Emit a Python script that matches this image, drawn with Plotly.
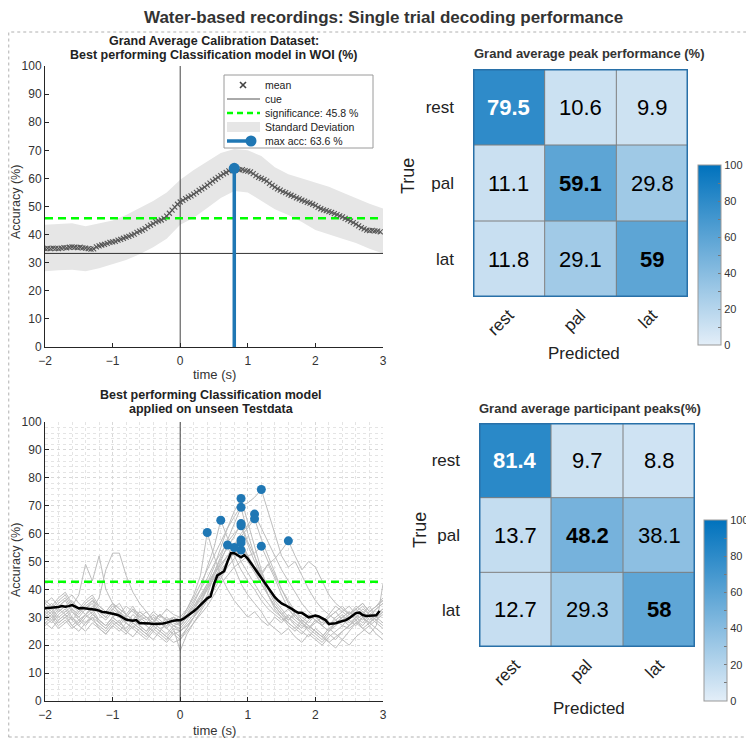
import plotly.graph_objects as go

W, H = 754, 741
OX, OY = 8, 8   # page body margin compensation
def px(x): return (x - OX) / W
def py(y): return 1 - (y - OY) / H

FONT = "Liberation Sans, Arial, Helvetica, sans-serif"
BLUE = "rgb(31,119,180)"
AXC = "#262626"

# ---------------- data: top-left (calibration grand average) ----------------
cal_t0, cal_dt = -2.0, 0.04
cal_mean = [35.0, 35.1, 35.0, 35.2, 35.1, 35.0, 35.2, 35.4, 35.3, 35.5, 35.6, 35.5, 35.4, 35.5, 35.3, 35.2, 35.0, 34.8, 34.9, 35.6,
            36.0, 36.3, 36.5, 36.9, 37.2, 37.4, 37.6, 38.0, 38.3, 38.7, 39.1, 39.4, 39.8, 40.2, 40.8, 41.2, 41.6, 42.1, 42.8, 43.4,
            43.9, 44.5, 44.9, 45.2, 45.8, 46.6, 47.6, 48.7, 49.8, 50.8, 51.6, 52.2, 52.8, 53.3, 53.8, 54.4, 55.0, 55.7, 56.3, 56.9,
            57.6, 58.3, 59.0, 59.7, 60.4, 61.0, 61.6, 62.1, 62.7, 63.2, 63.6, 63.3, 63.0, 63.1, 62.8, 62.6, 62.3, 61.7, 61.0, 60.4,
            60.0, 59.6, 59.0, 58.2, 57.5, 56.9, 56.3, 55.8, 55.3, 54.9, 54.4, 54.0, 53.6, 53.1, 52.7, 52.3, 51.9, 51.5, 51.2, 50.8,
            50.3, 49.7, 49.2, 48.8, 48.5, 48.2, 47.9, 47.5, 47.1, 46.7, 46.3, 45.8, 45.3, 44.8, 44.3, 43.7, 43.1, 42.5, 42.0, 41.6,
            41.4, 41.5, 41.3, 41.2, 41.0]
band_t = [-2.0, -1.8, -1.6, -1.4, -1.2, -1.0, -0.8, -0.6, -0.4, -0.2, 0.0, 0.2, 0.4, 0.6, 0.8, 1.0, 1.2, 1.4, 1.6, 1.8,
          2.0, 2.2, 2.4, 2.6, 2.8, 3.0]
band_upper = [43.5, 43.8, 44.0, 43.0, 44.0, 45.0, 47.0, 49.5, 52.0, 55.0, 59.5, 63.0, 66.0, 69.0, 70.5, 70.0, 68.0, 64.0, 61.5, 60.0,
              58.5, 57.0, 55.0, 53.0, 51.0, 49.3]
band_lower = [27.0, 27.3, 27.5, 27.0, 28.0, 29.5, 31.0, 33.0, 35.5, 38.5, 43.5, 46.0, 49.5, 53.0, 55.5, 55.0, 52.0, 49.0, 47.0, 44.5,
              41.6, 40.0, 38.5, 37.0, 35.0, 33.3]
chance_level = 33.3
sig_cal = 45.8

# ---------------- data: bottom-left (test data, participants) ----------------
test_t0, test_dt = -2.0, 0.1
p01 = [30,32,29,31,33,30,28,31,29,27,30,28,26,29,27,25,28,26,27,29, 28,33,38,45,60.4,52,45,40,36,33,30,32,29,27,30,28,31,29,27,26,28,30,27,29,31,28,30,32,29,31,33]
p02 = [35,37,34,36,38,35,33,36,34,32,35,31,30,33,29,30,28,31,29,30, 29,31,35,40,48,55,64.8,58,52,47,43,40,36,33,31,29,30,28,26,29,31,27,25,28,30,32,29,31,34,30,32]
p03 = [28,30,27,29,26,28,31,29,27,25,28,26,24,27,25,23,26,24,22,25, 23,26,30,34,38,45,50,55.9,48,42,38,35,32,28,26,24,26,23,21,24,22,20,23,25,27,26,28,30,27,29,31]
p04 = [33,35,32,34,36,33,31,34,32,30,33,35,31,29,32,30,28,31,29,27, 28,30,33,37,42,48,55,62,68,72.6,64,55,47,40,35,32,29,31,28,26,29,27,30,32,29,31,33,30,28,31,33]
p05 = [31,29,32,34,30,28,31,33,29,27,30,32,28,26,29,27,25,28,26,24, 25,28,31,35,40,46,52,58,64,69.4,60,52,45,38,33,30,27,25,28,26,24,22,25,27,29,27,30,28,31,29,27]
p06 = [36,34,37,39,35,33,36,38,34,32,35,33,31,34,30,32,29,31,28,30, 29,32,36,40,44,49,53,57,60,62.8,56,50,44,38,34,31,33,30,28,31,29,27,30,32,34,31,33,35,32,34,36]
p07 = [27,29,26,28,30,27,25,28,26,24,27,29,25,23,26,24,22,25,23,21, 22,26,30,35,41,46,51,55,59,63.6,57,52,46,41,36,33,30,27,25,23,26,24,21,23,25,27,29,26,28,30,28]
p08 = [32,30,33,31,29,32,34,31,29,27,30,28,31,29,27,25,28,26,24,27, 25,27,30,33,37,41,45,50,54,57.7,52,48,45,49,44,38,33,30,28,26,29,27,25,28,30,32,30,33,31,29,32]
p09 = [29,31,28,30,32,29,27,30,28,26,29,27,30,28,26,24,27,25,23,26, 18,24,28,32,36,40,44,48,51,54.1,50,46,42,38,34,31,28,26,24,27,25,23,26,28,30,29,27,30,28,26,24]
p10 = [34,32,35,37,33,31,34,36,32,30,33,31,34,32,30,28,31,29,27,30, 28,31,34,37,40,44,48,52,56,60,63,67,62,57,52,47,43,39,35,32,30,28,31,29,27,30,32,34,31,33,35]
p11 = [30,28,31,33,29,27,30,32,28,26,29,27,25,28,26,24,27,25,28,26, 25,27,30,33,37,41,46,50,55,59,62,65.3,58,52,46,40,35,31,28,25,23,21,24,22,25,27,29,27,30,28,26]
p12 = [35,33,36,38,34,32,35,37,33,31,34,32,30,33,31,29,32,30,33,31, 30,33,37,42,47,52,57,62,66,70,71,73,75.8,68,60,52,48,50,45,40,36,33,31,34,32,30,33,35,32,34,36]
p13 = [28,26,29,31,27,25,28,30,26,24,27,25,28,26,24,22,25,23,21,24, 22,25,28,31,34,38,42,45,48,50,52,53,55.5,50,45,40,36,32,29,27,25,23,21,19,22,20,23,25,27,24,22]
p14 = [33,31,34,36,32,30,33,35,31,29,32,30,28,31,29,27,30,28,26,29, 27,30,33,36,40,44,47,50,53,55,52,48,46,49,51,54,57.4,52,47,50,48,43,38,35,33,31,34,32,30,33,35]
p15 = [31,33,30,32,34,38,49,43,52,40,35,33,31,29,32,30,28,31,29,27, 26,29,33,37,41,45,49,52,54,56.7,52,47,42,38,34,31,29,32,30,28,31,29,27,30,32,34,31,29,32,34,37]
p16 = [29,31,28,30,27,29,31,33,37,47,53,53,45,39,35,32,29,27,30,28, 27,30,34,38,42,46,49,52,55,50,46,42,38,35,32,30,28,26,29,27,25,23,26,24,22,25,28,26,24,27,42]
participants = [p01, p02, p03, p04, p05, p06, p07, p08, p09, p10, p11, p12, p13, p14, p15, p16]

grand_t0, grand_dt = -2.0, 0.05
grand_test = [33.2, 33.3, 33.4, 33.5, 33.7, 34.0, 33.8, 34.0, 34.4, 33.8, 33.2, 33.3, 33.2, 33.1, 33.0, 32.7, 32.4, 31.9, 31.8, 31.6,
              31.4, 31.0, 30.6, 29.9, 29.2, 28.9, 28.8, 29.0, 27.9, 27.9, 27.9, 27.8, 27.6, 27.6, 27.6, 27.8, 28.1, 28.5, 28.8, 28.9,
              28.9, 29.5, 30.3, 31.2, 32.2, 33.2, 34.3, 35.5, 36.8, 37.5, 42.0, 45.0, 45.8, 46.5, 50.0, 53.0, 53.0, 52.2, 51.5, 52.3,
              51.0, 49.3, 47.6, 45.8, 44.0, 42.2, 40.4, 38.7, 37.2, 36.0, 35.0, 34.4, 33.8, 33.0, 32.2, 31.6, 31.6, 30.8, 30.0, 30.3,
              30.6, 30.3, 29.7, 29.0, 27.6, 27.7, 27.9, 28.3, 28.6, 29.0, 29.7, 30.6, 31.5, 31.7, 30.8, 30.5, 30.5, 30.5, 30.7, 32.3]
sig_test = 42.7

# ---------------- data: confusion matrices ----------------
classes = ["rest", "pal", "lat"]
cm_peak = [[79.5, 10.6, 9.9],
           [11.1, 59.1, 29.8],
           [11.8, 29.1, 59.0]]
cm_part = [[81.4, 9.7, 8.8],
           [13.7, 48.2, 38.1],
           [12.7, 29.3, 58.0]]

# ---------------------------------------------------------------------------
fig = go.Figure()

cal_time = [cal_t0 + cal_dt * i for i in range(len(cal_mean))]
peak_i = max(range(len(cal_mean)), key=lambda i: cal_mean[i])
peak_t, peak_v = cal_time[peak_i], cal_mean[peak_i]

fig.add_trace(go.Scatter(x=band_t + band_t[::-1], y=band_upper + band_lower[::-1], fill="toself",
                         fillcolor="rgb(230,230,230)", line=dict(width=0), mode="lines",
                         showlegend=False, hoverinfo="skip"))
fig.add_trace(go.Scatter(x=[-2, 3], y=[chance_level, chance_level], mode="lines",
                         line=dict(color="#333333", width=1), showlegend=False))
fig.add_trace(go.Scatter(x=[0, 0], y=[0, 100], mode="lines", line=dict(color="#444444", width=1),
                         showlegend=False))
fig.add_trace(go.Scatter(x=[-2, 3], y=[sig_cal, sig_cal], mode="lines",
                         line=dict(color="#00ff00", width=2.5, dash="8px,5px"), showlegend=False))
fig.add_trace(go.Scatter(x=cal_time, y=cal_mean, mode="markers",
                         marker=dict(symbol="x-thin-open", size=5, color="#555555",
                                     line=dict(width=1.1, color="#555555")),
                         showlegend=False))
fig.add_trace(go.Scatter(x=[peak_t, peak_t], y=[0, peak_v], mode="lines",
                         line=dict(color=BLUE, width=3.5), showlegend=False))
fig.add_trace(go.Scatter(x=[peak_t], y=[peak_v], mode="markers",
                         marker=dict(size=11, color=BLUE), showlegend=False))

# bottom-left
test_time = [test_t0 + test_dt * i for i in range(len(p01))]
for p in participants:
    fig.add_trace(go.Scatter(x=test_time, y=p, mode="lines", line=dict(color="rgb(190,190,190)", width=1),
                             showlegend=False, xaxis="x2", yaxis="y2", hoverinfo="skip"))
fig.add_trace(go.Scatter(x=[0, 0], y=[0, 100], mode="lines", line=dict(color="#444444", width=1),
                         showlegend=False, xaxis="x2", yaxis="y2"))
fig.add_trace(go.Scatter(x=[-2, 3], y=[sig_test, sig_test], mode="lines",
                         line=dict(color="#00ff00", width=2.5, dash="8px,5px"),
                         showlegend=False, xaxis="x2", yaxis="y2"))
grand_time = [grand_t0 + grand_dt * i for i in range(len(grand_test))]
fig.add_trace(go.Scatter(x=grand_time, y=grand_test, mode="lines", line=dict(color="black", width=2.5),
                         showlegend=False, xaxis="x2", yaxis="y2"))
dot_x, dot_y = [], []
for p in participants:
    k = max(range(len(p)), key=lambda i: p[i])
    dot_x.append(test_time[k]); dot_y.append(p[k])
fig.add_trace(go.Scatter(x=dot_x, y=dot_y, mode="markers", marker=dict(size=9, color=BLUE),
                         showlegend=False, xaxis="x2", yaxis="y2"))

# heatmaps
cscale = [[0, "rgb(227,238,248)"], [1, "rgb(0,114,189)"]]
cb_vals = list(range(0, 101, 10))
cb_text = [str(v) if v % 20 == 0 else "" for v in cb_vals]
def cbar(xleft, ytop, ybot):
    return dict(x=px(xleft), xanchor="left", xpad=0, ypad=0, y=py((ytop + ybot) / 2), yanchor="middle",
                len=ybot - ytop, lenmode="pixels", thickness=23, thicknessmode="pixels",
                tickvals=cb_vals, ticktext=cb_text, ticks="inside", ticklen=3, tickcolor="#777",
                tickfont=dict(size=11, color="#333", family=FONT), outlinewidth=1, outlinecolor="#999")

fig.add_trace(go.Heatmap(z=cm_peak, x=[0, 1, 2], y=[0, 1, 2], colorscale=cscale, zmin=0, zmax=100,
                         xaxis="x3", yaxis="y3", colorbar=cbar(698, 165, 345), hoverinfo="skip"))
fig.add_trace(go.Heatmap(z=cm_part, x=[0, 1, 2], y=[0, 1, 2], colorscale=cscale, zmin=0, zmax=100,
                         xaxis="x4", yaxis="y4", colorbar=cbar(704, 520, 701), hoverinfo="skip"))

annotations = []
shapes = []
for cm, xa, ya in [(cm_peak, "x3", "y3"), (cm_part, "x4", "y4")]:
    for i, row in enumerate(cm):
        for j, v in enumerate(row):
            txt = f"{v:g}"
            if i == j:
                txt = f"<b>{txt}</b>"
            annotations.append(dict(x=j, y=i, xref=xa, yref=ya, text=txt, showarrow=False,
                                    font=dict(size=22, family=FONT, color="white" if v >= 70 else "black")))
    for k in (0.5, 1.5):
        shapes.append(dict(type="line", xref=xa, yref=ya, x0=k, x1=k, y0=-0.5, y1=2.5,
                           line=dict(color="#7f7f7f", width=1)))
        shapes.append(dict(type="line", xref=xa, yref=ya, y0=k, y1=k, x0=-0.5, x1=2.5,
                           line=dict(color="#7f7f7f", width=1)))
    shapes.append(dict(type="rect", xref=xa, yref=ya, x0=-0.5, x1=2.5, y0=-0.5, y1=2.5,
                       line=dict(color="rgb(40,112,168)", width=3)))

# outer dotted frame
shapes.append(dict(type="rect", xref="paper", yref="paper", x0=0.001, x1=px(751), y0=py(737), y1=py(32),
                   line=dict(color="#b0b0b0", width=1, dash="dot"), layer="below"))

# ---- legend of the top-left panel (drawn as shapes + text) ----
def pshape(**kw):
    d = dict(xref="paper", yref="paper")
    d.update(kw)
    shapes.append(d)
pshape(type="rect", x0=px(224), x1=px(373), y0=py(148), y1=py(75), fillcolor="white",
       line=dict(color="#9a9a9a", width=1))
ry = [85, 99, 113, 127, 141]
pshape(type="line", x0=px(240), x1=px(246), y0=py(ry[0] - 3), y1=py(ry[0] + 3), line=dict(color="#444", width=1.6))
pshape(type="line", x0=px(240), x1=px(246), y0=py(ry[0] + 3), y1=py(ry[0] - 3), line=dict(color="#444", width=1.6))
pshape(type="line", x0=px(227), x1=px(260), y0=py(ry[1]), y1=py(ry[1]), line=dict(color="#555", width=1))
pshape(type="line", x0=px(227), x1=px(260), y0=py(ry[2]), y1=py(ry[2]), line=dict(color="#00ff00", width=2.5, dash="6px,4px"))
pshape(type="rect", x0=px(227), x1=px(260), y0=py(ry[3] + 5), y1=py(ry[3] - 5), fillcolor="rgb(230,230,230)",
       line=dict(width=0))
pshape(type="line", x0=px(227), x1=px(251), y0=py(ry[4]), y1=py(ry[4]), line=dict(color=BLUE, width=3.5))
pshape(type="circle", x0=px(245.5), x1=px(256.5), y0=py(ry[4] + 5.5), y1=py(ry[4] - 5.5), fillcolor=BLUE,
       line=dict(width=0))
leg_labels = ["mean", "cue", f"significance: {sig_cal} %", "Standard Deviation", f"max acc: {peak_v} %"]
for yy, lab in zip(ry, leg_labels):
    annotations.append(dict(x=px(263), y=py(yy), xref="paper", yref="paper", text=lab, showarrow=False,
                            xanchor="left", yanchor="middle", font=dict(size=10.5, family=FONT, color="#222")))

def ann(x, y, text, size, bold=False, angle=0, color="#222"):
    annotations.append(dict(x=px(x), y=py(y), xref="paper", yref="paper", text=f"<b>{text}</b>" if bold else text,
                            showarrow=False, textangle=angle, xanchor="center", yanchor="middle",
                            font=dict(size=size, family=FONT, color=color)))

ann(383, 17, "Water-based recordings: Single trial decoding performance", 17, True, color="#333")
ann(214, 41, "Grand Average Calibration Dataset:", 12.5, True)
ann(214, 55, "Best performing Classification model in WOI (%)", 12.5, True)
ann(211, 395, "Best performing Classification model", 12.5, True)
ann(211, 409, "applied on unseen Testdata", 12.5, True)
ann(589, 53, "Grand average peak performance (%)", 13, True, color="#333")
ann(590, 408, "Grand average participant peaks(%)", 13, True, color="#333")
ann(16, 202, "Accuracy (%)", 12.5, angle=-90, color="#333")
ann(16, 560, "Accuracy (%)", 12.5, angle=-90, color="#333")
ann(214, 374, "time (s)", 13, color="#333")
ann(214, 730, "time (s)", 13, color="#333")
ann(408, 176, "True", 18, angle=-90, color="#222")
ann(420, 530, "True", 18, angle=-90, color="#222")
ann(584, 353, "Predicted", 17, color="#222")
ann(589, 708, "Predicted", 17, color="#222")

line_ax = dict(showline=True, linecolor=AXC, linewidth=1, ticks="inside", ticklen=4, tickcolor=AXC,
               tickfont=dict(size=12, color="#333", family=FONT), zeroline=False, mirror=False)

hm_x = dict(range=[-0.5, 2.5], tickvals=[0, 1, 2], ticktext=classes, tickangle=-45, showgrid=False,
            zeroline=False, showline=False, ticks="", ticklabelstandoff=4,
            tickfont=dict(size=17, color="#222", family=FONT))
hm_y = dict(range=[2.5, -0.5], tickvals=[0, 1, 2], ticktext=classes, showgrid=False, zeroline=False,
            showline=False, ticks="", ticklabelstandoff=18, tickfont=dict(size=17, color="#222", family=FONT))

fig.update_layout(
    width=W, height=H, margin=dict(l=0, r=0, t=0, b=0, autoexpand=False),
    paper_bgcolor="white", plot_bgcolor="white", showlegend=False,
    font=dict(family=FONT, color="#222"),
    xaxis=dict(domain=[px(45), px(383)], range=[-2, 3], tickvals=[-2, -1, 0, 1, 2, 3], showgrid=False, anchor="y",
               ticklabelstandoff=3, **line_ax),
    yaxis=dict(domain=[py(347), py(66)], range=[0, 100], dtick=10, showgrid=False, anchor="x", **line_ax),
    xaxis2=dict(domain=[px(45), px(383)], range=[-2, 3], tickvals=[-2, -1, 0, 1, 2, 3], anchor="y2",
                showgrid=True, gridcolor="#d8d8d8", griddash="dot", ticklabelstandoff=3,
                minor=dict(dtick=0.2, showgrid=True, gridcolor="#e4e4e4", griddash="dot"), **line_ax),
    yaxis2=dict(domain=[py(701), py(422)], range=[0, 100], dtick=10, anchor="x2",
                showgrid=True, gridcolor="#d8d8d8", griddash="dot",
                minor=dict(dtick=2, showgrid=True, gridcolor="#e4e4e4", griddash="dot"), **line_ax),
    xaxis3=dict(domain=[px(473), px(688)], anchor="y3", **hm_x),
    yaxis3=dict(domain=[py(297), py(69)], anchor="x3", **hm_y),
    xaxis4=dict(domain=[px(479), px(695)], anchor="y4", **hm_x),
    yaxis4=dict(domain=[py(647), py(423)], anchor="x4", **hm_y),
    annotations=annotations, shapes=shapes,
)

fig.write_html("out.html")
